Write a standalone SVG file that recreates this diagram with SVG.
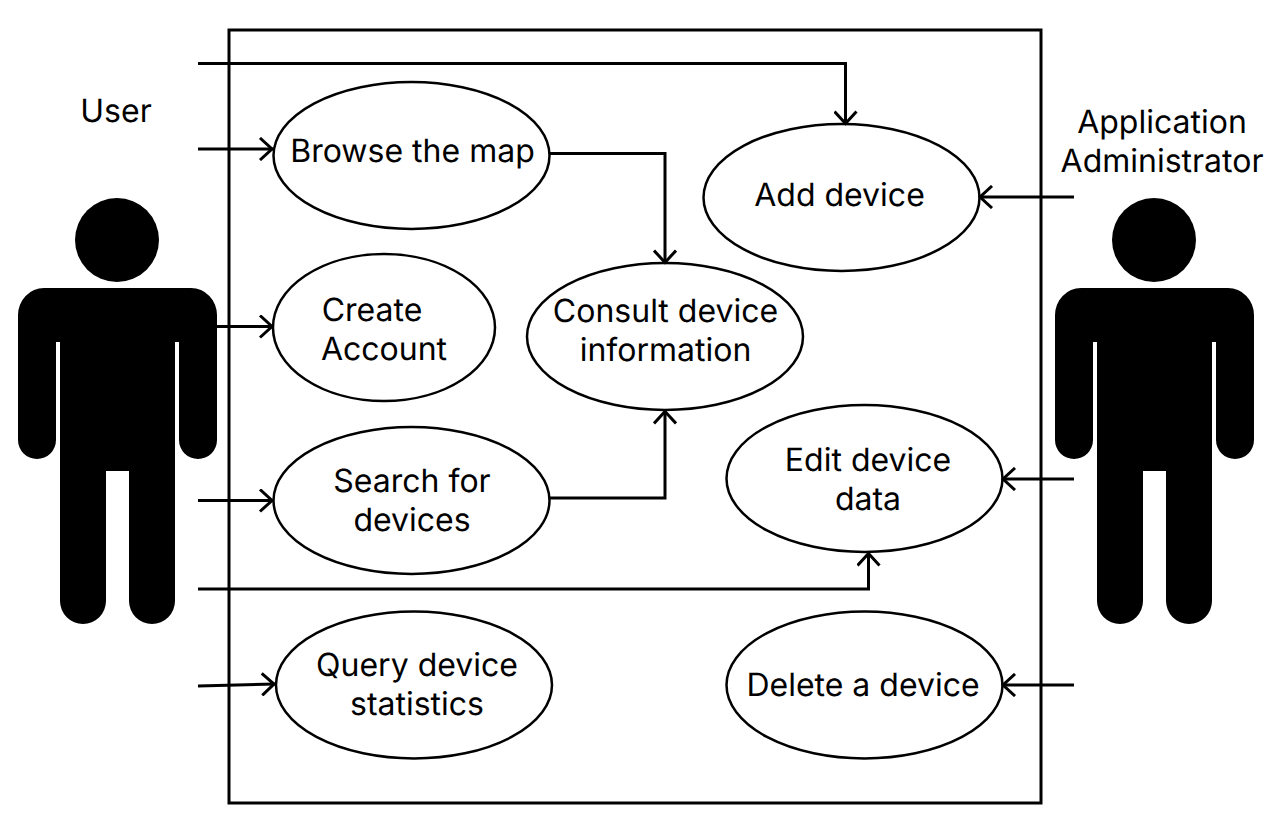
<svg xmlns="http://www.w3.org/2000/svg" width="1272" height="831" viewBox="0 0 1272 831">
<defs>
<marker id="a" markerUnits="userSpaceOnUse" markerWidth="20" markerHeight="24" refX="15" refY="12" orient="auto"><path d="M2 1 L14 12 L2 23" fill="none" stroke="#000" stroke-width="3"/></marker>
<g id="person"><circle cx="117" cy="240" r="42"/><path d="M44 288 H191 A26 27 0 0 1 217 315 V440 A19 19 0 0 1 179 440 V342 H175 V601 A23 23 0 0 1 129 601 V471 H106 V601 A23 23 0 0 1 60 601 V342 H56 V440 A19 19 0 0 1 18 440 V315 A26 27 0 0 1 44 288 Z"/></g>
</defs>
<style>
.t{font-family:Inter,"Liberation Sans",sans-serif;font-size:32px;fill:#000;text-anchor:middle;dominant-baseline:central;text-rendering:geometricPrecision}
.e{fill:#fff;stroke:#000;stroke-width:2.500}
.c{fill:none;stroke:#000;stroke-width:3;marker-end:url(#a)}
</style>
<rect id="system" x="229" y="30" width="812" height="773" fill="#fff" stroke="#000" stroke-width="3"/>
<g id="actor-user"><use href="#person"/><text class="t" x="116" y="110.300">User</text></g>
<g id="actor-admin"><use href="#person" x="1037"/><text class="t" x="1162" y="121.300">Application</text><text class="t" x="1162" y="160.300">Administrator</text></g>
<g id="browse"><ellipse class="e" cx="411.500" cy="155.500" rx="138" ry="73.500"/><text class="t" x="412.500" y="150.300">Browse the map</text></g>
<g id="add"><ellipse class="e" cx="841.500" cy="197.500" rx="138" ry="73.500"/><text class="t" x="839.500" y="194.300">Add device</text></g>
<g id="create"><ellipse class="e" cx="384" cy="327.500" rx="111" ry="73.500"/><text class="t" x="372" y="309.300">Create</text><text class="t" x="384" y="348.300">Account</text></g>
<g id="consult"><ellipse class="e" cx="665" cy="336.500" rx="138" ry="73.500"/><text class="t" x="665.500" y="310.300">Consult device</text><text class="t" x="665.500" y="349.300">information</text></g>
<g id="search"><ellipse class="e" cx="411.500" cy="500.500" rx="138" ry="73.500"/><text class="t" x="412" y="480.300">Search for</text><text class="t" x="412" y="519.300">devices</text></g>
<g id="edit"><ellipse class="e" cx="864.500" cy="478.500" rx="138" ry="73.500"/><text class="t" x="868" y="459.300">Edit device</text><text class="t" x="868" y="498.300">data</text></g>
<g id="query"><ellipse class="e" cx="414" cy="685" rx="138" ry="73.500"/><text class="t" x="417" y="664.300">Query device</text><text class="t" x="417" y="703.300">statistics</text></g>
<g id="delete"><ellipse class="e" cx="864.500" cy="685" rx="138" ry="73.500"/><text class="t" x="863" y="684.300">Delete a device</text></g>
<g id="connectors">
<path class="c" d="M198 63.500 H845.500 V124.500"/>
<path class="c" d="M198 149 H273"/>
<path class="c" d="M550 153.500 H665 V263.500"/>
<path class="c" d="M217 326.500 H273"/>
<path class="c" d="M198 500.500 H273"/>
<path class="c" d="M550 498 H665 V410.500"/>
<path class="c" d="M198 589 H868.500 V552.500"/>
<path class="c" d="M198 686 L275 684"/>
<path class="c" d="M1074 197 H979"/>
<path class="c" d="M1074 479 H1002"/>
<path class="c" d="M1074 685 H1002"/>
</g>
</svg>
